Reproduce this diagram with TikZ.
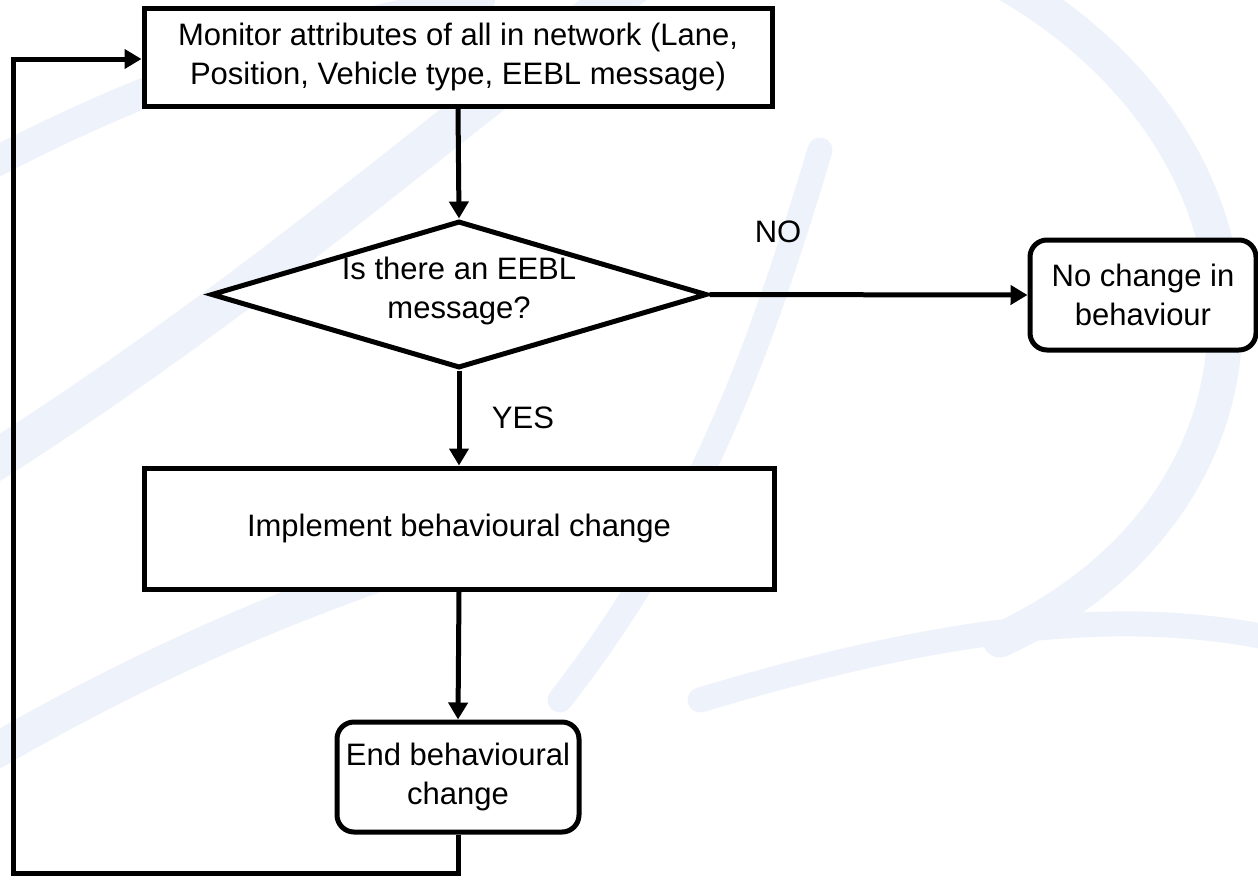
\documentclass[tikz,border=0pt]{standalone}
\usepackage{fontspec}
\setmainfont{Liberation Sans}
\usetikzlibrary{arrows.meta,shapes.geometric}
\definecolor{wm}{RGB}{238,242,250}
\begin{document}
\begin{tikzpicture}[x=1pt,y=-1pt,
  every node/.style={font=\fontsize{31}{39}\selectfont},
  conn/.style={line width=5pt},
  arr/.style={conn,-{Triangle[length=17pt,width=19pt]}},
  boxr/.style={draw,line width=5pt,fill=white,inner sep=0pt,align=center},
  roundbox/.style={boxr,rounded corners=17pt},
  lbl/.style={inner sep=0pt,align=center}]
\useasboundingbox (0,0) rectangle (1258,879);
\fill[white] (0,0) rectangle (1258,879);
% faint watermark swooshes
\begin{scope}[wm,line cap=round]
  \draw[line width=40pt] (-20,470) .. controls (250,300) and (450,120) .. (640,-20);
  \draw[line width=30pt] (-20,170) .. controls (150,80) and (300,30) .. (480,0);
  \draw[line width=35pt] (1000,-20) .. controls (1300,150) and (1300,500) .. (1000,640);
  \draw[line width=25pt] (700,700) .. controls (900,640) and (1100,600) .. (1280,640);
  \draw[line width=35pt] (-20,760) .. controls (150,660) and (300,600) .. (420,560);
  \draw[line width=25pt] (560,700) .. controls (700,520) and (760,350) .. (820,150);
\end{scope}
% nodes
\node[boxr,minimum width=628pt,minimum height=98pt] (top) at (458,57)
  {Monitor attributes of all in network (Lane,\\Position, Vehicle type, EEBL message)};
\node[draw,line width=5pt,fill=white,diamond,inner sep=0pt,
  minimum width=496pt,minimum height=147pt] (dia) at (459,294.5) {};
\node[lbl] (diatxt) at (459,291) {Is there an EEBL\\message?};
\node[roundbox,minimum width=226pt,minimum height=110pt] (noch) at (1143,295)
  {No change in\\behaviour};
\node[boxr,minimum width=630pt,minimum height=121pt] (impl) at (459,528.5)
  {Implement behavioural change};
\node[roundbox,minimum width=242pt,minimum height=110pt] (endb) at (458,777)
  {End behavioural\\change};
\node[lbl] (no) at (778,232) {NO};
\node[lbl] (yes) at (523,418) {YES};
\coordinate (c1) at (13,873);
\coordinate (c2) at (13,59);
% connectors
\draw[arr] (top.south) -- (dia.north);
\draw[arr] (dia.east) -- (noch.west);
\draw[arr] (dia.south) -- (impl.north);
\draw[arr] (impl.south) -- (endb.north);
\draw[arr] (endb.south) |- (c1) -- (c2) -- (top.west |- c2);
\end{tikzpicture}
\end{document}
